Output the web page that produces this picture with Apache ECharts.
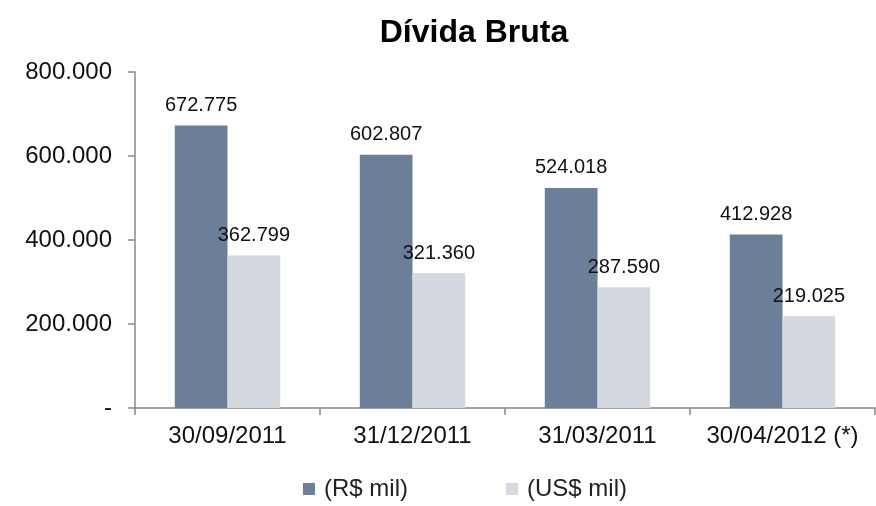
<!DOCTYPE html>
<html>
<head>
<meta charset="utf-8">
<script src="https://cdn.jsdelivr.net/npm/echarts@6/dist/echarts.min.js"></script>
<style>
  html, body { margin: 0; padding: 0; background: #fff; }
  #chart { width: 876px; height: 506px; }
</style>
</head>
<body>
<div id="chart"></div>
<script>
// dados
var categories = ['30/09/2011', '31/12/2011', '31/03/2011', '30/04/2012 (*)'];
var realValues = [672775, 602807, 524018, 412928];
var dollarValues = [362799, 321360, 287590, 219025];
var seriesNames = ['(R$ mil)', '(US$ mil)'];

function fmt(v) {
  if (v === 0) return '-';
  return String(v).replace(/\B(?=(\d{3})+(?!\d))/g, '.');
}

var chart = echarts.init(document.getElementById('chart'));
var fontFam = '"Liberation Sans", Arial, sans-serif';

chart.setOption({
  animation: false,
  textStyle: { fontFamily: fontFam },
  title: {
    text: 'Dívida Bruta',
    left: 469,
    textAlign: 'center',
    top: 12,
    textStyle: { fontSize: 32, fontWeight: 'bold', color: '#000', fontFamily: fontFam }
  },
  legend: {
    bottom: 0,
    left: 298,
    itemGap: 98,
    itemWidth: 12,
    itemHeight: 12,
    icon: 'rect',
    textStyle: { fontSize: 24, color: '#222', fontFamily: fontFam, padding: [0, 0, 0, 4] },
    data: seriesNames
  },
  grid: { left: 135, right: 1, top: 72, bottom: 98 },
  xAxis: {
    type: 'category',
    data: categories,
    axisLine: { lineStyle: { color: '#888', width: 1.5 } },
    axisTick: { show: true, interval: 0, length: 7, lineStyle: { color: '#888', width: 1.5 } },
    axisLabel: { interval: 0, fontSize: 24, color: '#111', margin: 16, fontFamily: fontFam }
  },
  yAxis: {
    type: 'value',
    min: 0,
    max: 800000,
    interval: 200000,
    splitLine: { show: false },
    axisLine: { show: true, lineStyle: { color: '#888', width: 1.5 } },
    axisTick: { show: true, length: 7, lineStyle: { color: '#888', width: 1.5 } },
    axisLabel: { fontSize: 24, color: '#111', margin: 23, formatter: fmt, fontFamily: fontFam }
  },
  series: [
    {
      name: seriesNames[0],
      type: 'bar',
      data: realValues,
      barGap: '0%',
      barCategoryGap: '43%',
      itemStyle: { color: '#6b7f98' },
      label: {
        show: true, position: 'top', distance: 10,
        fontSize: 20, color: '#111', fontFamily: fontFam,
        formatter: function (p) { return fmt(p.value); }
      }
    },
    {
      name: seriesNames[1],
      type: 'bar',
      data: dollarValues,
      itemStyle: { color: '#d4d8df' },
      label: {
        show: true, position: 'top', distance: 10,
        fontSize: 20, color: '#111', fontFamily: fontFam,
        formatter: function (p) { return fmt(p.value); }
      }
    }
  ]
});
</script>
</body>
</html>
